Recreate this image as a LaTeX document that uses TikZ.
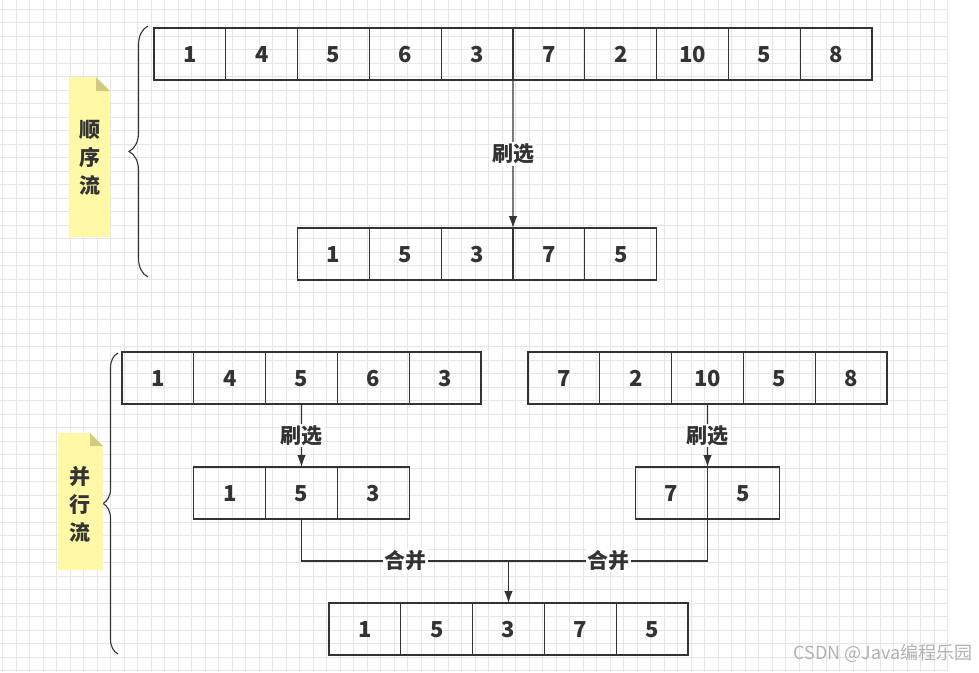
\documentclass[tikz,border=0pt]{standalone}
\usepackage{fontspec}
\setmainfont{Noto Sans CJK SC}
\usetikzlibrary{arrows.meta,positioning,calc,decorations.pathreplacing}

\definecolor{inkgray}{HTML}{333333}
\definecolor{notefill}{HTML}{FFF8A6}
\definecolor{notefold}{HTML}{CFCB7F}
\definecolor{gridgray}{HTML}{E6E6E6}

\begin{document}
\begin{tikzpicture}[
    x=1pt, y=-1pt,
    cell/.style={rectangle, draw=inkgray, line width=1.3pt, minimum width=71.8pt, minimum height=52pt, outer sep=0pt, inner sep=0pt, text height=16pt, text depth=0pt, text=inkgray, font=\fontsize{22}{22}\selectfont\bfseries},
    line/.style={draw=inkgray, -{Latex[length=12pt, width=8.5pt]}, line width=1.1pt},
    plain/.style={draw=inkgray, line width=1.1pt},
    lbl/.style={fill=white, inner sep=1.5pt, text=inkgray, font=\fontsize{21}{21}\selectfont\bfseries},
    notetext/.style={align=center, text=inkgray, font=\fontsize{21}{28}\selectfont\bfseries},
    curly/.style={draw=inkgray, line width=1.1pt, decorate, decoration={brace, amplitude=#1}}
]
    \useasboundingbox (0,0) rectangle (979,672);
    \fill[white] (0,0) rectangle (979,672);
    % background grid
    \foreach \gx in {2.5,16,...,948} \draw[gridgray, line width=0.6pt] (\gx,0) -- (\gx,672);
    \foreach \gy in {9,22.5,...,672} \draw[gridgray, line width=0.6pt] (0,\gy) -- (948,\gy);

    % sequential stream
    \node[cell, anchor=north west] (s1) at (154,28) {1};
    \foreach \v [count=\i from 2, remember=\i as \j (initially 1)] in {4,5,6,3,7,2,10,5,8}
        \node[cell, right=0pt of s\j] (s\i) {\v};

    \node[cell, anchor=north west] (f1) at (297.6,228) {1};
    \foreach \v [count=\i from 2, remember=\i as \j (initially 1)] in {5,3,7,5}
        \node[cell, right=0pt of f\j] (f\i) {\v};

    \draw [line] (s5.south east) -- node[lbl] {刷选} (f3.north east);

    \draw [curly=19pt] (148,277) -- (148,26);
    \fill[notefill] (69,77) -- (96,77) -- (110,91) -- (110,237) -- (69,237) -- cycle;
    \fill[notefold] (96,77) -- (110,91) -- (96,91) -- cycle;
    \node[notetext] (seq) at (90,158) {顺\\序\\流};

    % parallel stream
    \node[cell, anchor=north west] (a1) at (122,352) {1};
    \foreach \v [count=\i from 2, remember=\i as \j (initially 1)] in {4,5,6,3}
        \node[cell, right=0pt of a\j] (a\i) {\v};

    \node[cell, anchor=north west] (b1) at (528,352) {7};
    \foreach \v [count=\i from 2, remember=\i as \j (initially 1)] in {2,10,5,8}
        \node[cell, right=0pt of b\j] (b\i) {\v};

    \node[cell, anchor=north west] (fa1) at (193.8,467) {1};
    \foreach \v [count=\i from 2, remember=\i as \j (initially 1)] in {5,3}
        \node[cell, right=0pt of fa\j] (fa\i) {\v};

    \node[cell, anchor=north west] (fb1) at (635.7,467) {7};
    \node[cell, right=0pt of fb1] (fb2) {5};

    \node[cell, anchor=north west] (r1) at (329,603) {1};
    \foreach \v [count=\i from 2, remember=\i as \j (initially 1)] in {5,3,7,5}
        \node[cell, right=0pt of r\j] (r\i) {\v};

    \draw [line] (a3.south) -- node[lbl] {刷选} (fa2.north);
    \draw [line] (b3.south) -- node[lbl] {刷选} (fb1.north east);

    \coordinate (join) at ($(r3.north)+(0,-42)$);
    \draw [plain] (fa2.south) |- node[lbl, pos=0.75] {合并} (join);
    \draw [plain] (fb1.south east) |- node[lbl, pos=0.75] {合并} (join);
    \draw [line] (join) -- (r3.north);

    \draw [curly=15pt] (118,654) -- (118,353);
    \fill[notefill] (58,433) -- (90,433) -- (103,446) -- (103,570) -- (58,570) -- cycle;
    \fill[notefold] (90,433) -- (103,446) -- (90,446) -- cycle;
    \node[notetext] (par) at (80,504) {并\\行\\流};

    \node[anchor=south east, text=black!30, font=\fontsize{18}{18}\selectfont] (mark) at (976,666) {CSDN @Java编程乐园};
\end{tikzpicture}
\end{document}
